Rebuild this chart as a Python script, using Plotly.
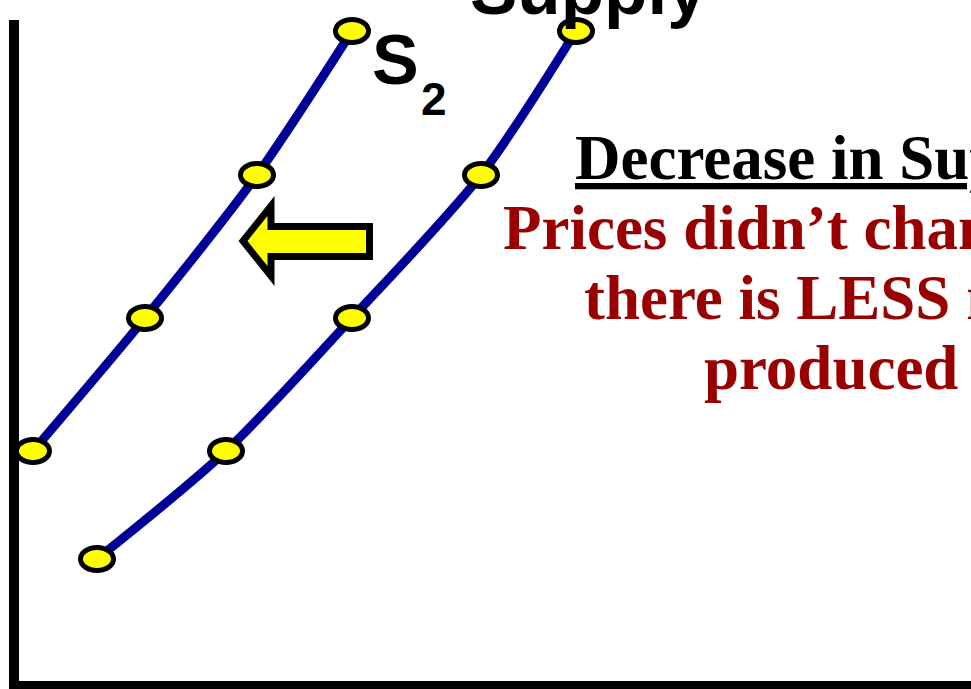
import plotly.graph_objects as go

# Data (quantity, price) in chart units
q_s1 = [97, 226, 352, 481, 576]
p_s1 = [559, 451, 318, 175, 31]
q_s2 = [33, 145, 257, 352]
p_s2 = [451, 318, 175, 31]

title_text = "Supply"
curve_label = "S"
curve_sub = "2"
heading = "Decrease in Supply"
note_lines = ["Prices didn’t change but", "there is LESS now", "produced"]

BLUE = "#000099"
RED = "#990000"
YELLOW = "#FFFF00"
SANS = "Arial, Liberation Sans, sans-serif"
SERIF = "Times New Roman, Liberation Serif, serif"

fig = go.Figure()
for qs, ps in [(q_s1, p_s1), (q_s2, p_s2)]:
    fig.add_trace(go.Scatter(x=qs, y=ps, mode="lines",
                             line=dict(color=BLUE, width=9, shape="spline", smoothing=0.8),
                             hoverinfo="skip", showlegend=False))

shapes = []
# axes
shapes.append(dict(type="line", x0=14, x1=14, y0=20, y1=689, line=dict(color="black", width=10), layer="above"))
shapes.append(dict(type="line", x0=9, x1=971, y0=685, y1=685, line=dict(color="black", width=8), layer="above"))
# elliptical point markers
for qs, ps in [(q_s1, p_s1), (q_s2, p_s2)]:
    for q, p in zip(qs, ps):
        shapes.append(dict(type="circle", x0=q - 16.5, x1=q + 16.5, y0=p - 11.5, y1=p + 11.5,
                           fillcolor=YELLOW, line=dict(color="black", width=5), layer="above"))
# shift arrow (pointing left)
shapes.append(dict(type="path",
                   path="M 369.5 226.5 L 271 226.5 L 271 206 L 243 241 L 271 276 L 271 256.5 L 369.5 256.5 Z",
                   fillcolor=YELLOW, line=dict(color="black", width=7), layer="above"))

ann = []
ann.append(dict(x=588.5, y=31, text="<b>%s</b>" % title_text, showarrow=False,
                font=dict(family=SANS, size=71, color="black"), xanchor="center", yanchor="bottom"))
ann.append(dict(x=395.5, y=60, text="<b>%s</b>" % curve_label, showarrow=False,
                font=dict(family=SANS, size=70, color="black"), xanchor="center", yanchor="middle"))
ann.append(dict(x=433.5, y=98.5, text="<b>%s</b>" % curve_sub, showarrow=False,
                font=dict(family=SANS, size=46, color="black"), xanchor="center", yanchor="middle"))
ann.append(dict(x=831, y=157.6, text="<b><u>%s</u></b>" % heading, showarrow=False,
                font=dict(family=SERIF, size=63, color="black"), xanchor="center", yanchor="middle"))
for i, line in enumerate(note_lines):
    ann.append(dict(x=831, y=227.6 + 70 * i, text="<b>%s</b>" % line, showarrow=False,
                    font=dict(family=SERIF, size=63, color=RED), xanchor="center", yanchor="middle"))

fig.update_layout(
    width=971, height=689,
    margin=dict(l=0, r=0, t=0, b=0),
    paper_bgcolor="white", plot_bgcolor="white",
    xaxis=dict(range=[0, 971], visible=False, fixedrange=True),
    yaxis=dict(range=[689, 0], visible=False, fixedrange=True),
    shapes=shapes, annotations=ann, showlegend=False,
)
fig.write_html("out.html", config={"displayModeBar": False},
               post_script="document.body.style.margin='0';document.body.style.padding='0';")
